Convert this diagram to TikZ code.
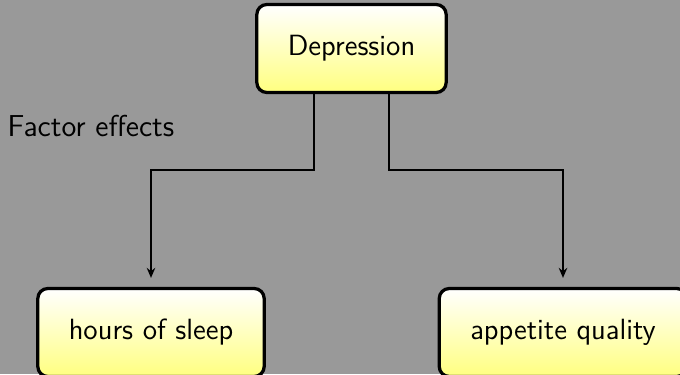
\documentclass[tikz,border=0pt]{standalone}
\usetikzlibrary{arrows.meta}
\begin{document}
\begin{tikzpicture}[x=0.4pt,y=-0.4pt,
  box/.style={draw=black,line width=1.3pt,rounded corners=4pt,top color=white,bottom color=yellow!50,
    minimum height=35.2pt,inner xsep=12.4pt,font=\sffamily\fontsize{11.7}{14}\selectfont},
  arr/.style={line width=0.8pt,-{Stealth[length=4pt,width=3.4pt]},shorten >=3.6pt},
  lab/.style={font=\sffamily\fontsize{12.1}{14}\selectfont}]
\fill[black!40] (0,0) rectangle (680,374);
\useasboundingbox (0,0) rectangle (680,374);
\node[box] (dep) at (351.5,48.5) {Depression};
\node[box] (sleep) at (151,332.5) {hours of sleep};
\node[box] (app) at (563,332.5) {appetite quality};
\node[lab,anchor=west,inner sep=0pt] (fe) at (7,126) {Factor effects};
\draw[arr] ([xshift=-15.2pt]dep.south) -- ++(0,75.5) -| (sleep.north);
\draw[arr] ([xshift=15pt]dep.south) -- ++(0,75.5) -| (app.north);
\end{tikzpicture}
\end{document}
